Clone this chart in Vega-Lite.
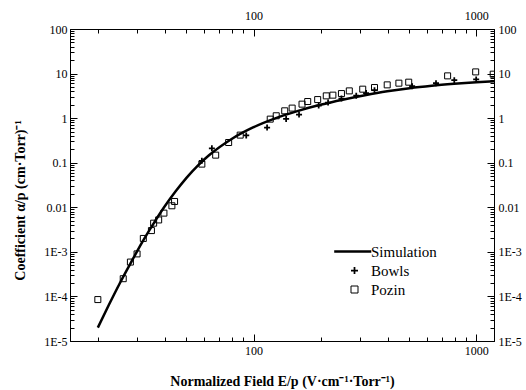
{
  "$schema": "https://vega.github.io/schema/vega-lite/v6.json",
  "width": 424,
  "height": 312,
  "autosize": "none",
  "padding": {"left": 70, "top": 29, "right": 32, "bottom": 49},
  "background": "white",
  "config": {
    "view": {"stroke": "black", "strokeWidth": 1},
    "font": "Liberation Serif",
    "axis": {
      "domainColor": "black", "domainWidth": 1, "tickColor": "black", "tickWidth": 1,
      "labelColor": "black", "titleColor": "black", "grid": false,
      "labelFont": "Liberation Serif", "titleFont": "Liberation Serif",
      "labelFontSize": 12, "titleFontSize": 14, "labelOverlap": false, "labelFlush": false, "labelBound": false
    }
  },
  "datasets": {
    "sim": [
      {"ep": 20, "alpha": 0.00002},
      {"ep": 22.4, "alpha": 0.0000641},
      {"ep": 25.1, "alpha": 0.000198},
      {"ep": 28.2, "alpha": 0.000582},
      {"ep": 31.6, "alpha": 0.00163},
      {"ep": 35.5, "alpha": 0.00425},
      {"ep": 39.8, "alpha": 0.01026},
      {"ep": 44.7, "alpha": 0.0228},
      {"ep": 50.1, "alpha": 0.0463},
      {"ep": 56.2, "alpha": 0.0863},
      {"ep": 63.1, "alpha": 0.1466},
      {"ep": 79.4, "alpha": 0.336},
      {"ep": 100, "alpha": 0.625},
      {"ep": 125.9, "alpha": 1.0},
      {"ep": 158.5, "alpha": 1.457},
      {"ep": 199.5, "alpha": 1.989},
      {"ep": 251.2, "alpha": 2.59},
      {"ep": 316.2, "alpha": 3.26},
      {"ep": 398.1, "alpha": 3.99},
      {"ep": 501.2, "alpha": 4.7},
      {"ep": 631, "alpha": 5.33},
      {"ep": 794.3, "alpha": 5.89},
      {"ep": 1000, "alpha": 6.41},
      {"ep": 1200, "alpha": 6.75}
    ],
    "exp": [
      {"series": "Pozin", "ep": 20, "alpha": 0.000085},
      {"series": "Pozin", "ep": 26, "alpha": 0.00025},
      {"series": "Pozin", "ep": 28, "alpha": 0.00059},
      {"series": "Pozin", "ep": 30, "alpha": 0.0009},
      {"series": "Pozin", "ep": 32, "alpha": 0.002},
      {"series": "Pozin", "ep": 34.8, "alpha": 0.003},
      {"series": "Pozin", "ep": 35.6, "alpha": 0.0044},
      {"series": "Pozin", "ep": 37.5, "alpha": 0.0052},
      {"series": "Pozin", "ep": 39.6, "alpha": 0.0074},
      {"series": "Pozin", "ep": 43, "alpha": 0.0108},
      {"series": "Pozin", "ep": 44.2, "alpha": 0.0135},
      {"series": "Pozin", "ep": 58.6, "alpha": 0.093},
      {"series": "Pozin", "ep": 67.6, "alpha": 0.148},
      {"series": "Pozin", "ep": 77.3, "alpha": 0.284},
      {"series": "Pozin", "ep": 87.1, "alpha": 0.416},
      {"series": "Pozin", "ep": 118.8, "alpha": 0.95},
      {"series": "Pozin", "ep": 126.4, "alpha": 1.13},
      {"series": "Pozin", "ep": 138, "alpha": 1.46},
      {"series": "Pozin", "ep": 149, "alpha": 1.68},
      {"series": "Pozin", "ep": 165, "alpha": 2.06},
      {"series": "Pozin", "ep": 175, "alpha": 2.36},
      {"series": "Pozin", "ep": 194, "alpha": 2.61},
      {"series": "Pozin", "ep": 212, "alpha": 3.16},
      {"series": "Pozin", "ep": 227, "alpha": 3.28},
      {"series": "Pozin", "ep": 248, "alpha": 3.56},
      {"series": "Pozin", "ep": 269, "alpha": 4.09},
      {"series": "Pozin", "ep": 309, "alpha": 4.47},
      {"series": "Pozin", "ep": 349, "alpha": 4.86},
      {"series": "Pozin", "ep": 398, "alpha": 5.58},
      {"series": "Pozin", "ep": 449, "alpha": 6.09},
      {"series": "Pozin", "ep": 497, "alpha": 6.41},
      {"series": "Pozin", "ep": 743, "alpha": 8.88},
      {"series": "Pozin", "ep": 993, "alpha": 10.9},
      {"series": "Pozin", "ep": 1190, "alpha": 9.7},
      {"series": "Bowls", "ep": 58.6, "alpha": 0.11},
      {"series": "Bowls", "ep": 65, "alpha": 0.21},
      {"series": "Bowls", "ep": 92.7, "alpha": 0.41},
      {"series": "Bowls", "ep": 115, "alpha": 0.615},
      {"series": "Bowls", "ep": 140, "alpha": 0.96},
      {"series": "Bowls", "ep": 160, "alpha": 1.2},
      {"series": "Bowls", "ep": 196, "alpha": 1.92},
      {"series": "Bowls", "ep": 216, "alpha": 2.24},
      {"series": "Bowls", "ep": 248, "alpha": 2.75},
      {"series": "Bowls", "ep": 289, "alpha": 3.2},
      {"series": "Bowls", "ep": 320, "alpha": 3.65},
      {"series": "Bowls", "ep": 349, "alpha": 4.25},
      {"series": "Bowls", "ep": 515, "alpha": 5.2},
      {"series": "Bowls", "ep": 659, "alpha": 6.1},
      {"series": "Bowls", "ep": 796, "alpha": 7.1},
      {"series": "Bowls", "ep": 998, "alpha": 7.4}
    ]
  },
  "layer": [
    {
      "data": {"name": "sim"},
      "mark": {"type": "line", "color": "black", "strokeWidth": 2.5, "interpolate": "monotone", "clip": true},
      "encoding": {
        "x": {
          "field": "ep", "type": "quantitative",
          "scale": {"type": "log", "domain": [15, 1200], "nice": false},
          "axis": {
            "orient": "bottom",
            "values": [20, 30, 40, 50, 60, 70, 80, 90, 100, 200, 300, 400, 500, 600, 700, 800, 900, 1000],
            "labelExpr": "datum.value == 100 ? '100' : datum.value == 1000 ? '1000' : ''",
            "tickSize": {"condition": {"test": "datum.value == 100 || datum.value == 1000", "value": -7}, "value": -4},
            "labelPadding": 11,
            "title": "Normalized Field E/p (V·cm⁻¹·Torr⁻¹)",
            "titleFontWeight": "bold",
            "titleX": 212,
            "titleY": 40,
            "titleBaseline": "middle"
          }
        },
        "y": {
          "field": "alpha", "type": "quantitative",
          "scale": {"type": "log", "domain": [0.00001, 100], "nice": false},
          "axis": {
            "orient": "left",
            "values": [0.00001, 0.00002, 0.00003, 0.00004, 0.00005, 0.00006, 0.00007, 0.00008, 0.00009, 0.0001, 0.0002, 0.0003, 0.0004, 0.0005, 0.0006, 0.0007, 0.0008, 0.0009, 0.001, 0.002, 0.003, 0.004, 0.005, 0.006, 0.007, 0.008, 0.009, 0.01, 0.02, 0.03, 0.04, 0.05, 0.06, 0.07, 0.08, 0.09, 0.1, 0.2, 0.3, 0.4, 0.5, 0.6, 0.7, 0.8, 0.9, 1, 2, 3, 4, 5, 6, 7, 8, 9, 10, 20, 30, 40, 50, 60, 70, 80, 90, 100],
            "labelExpr": "datum.value == 100 ? '100' : datum.value == 10 ? '10' : datum.value == 1 ? '1' : datum.value == 0.1 ? '0.1' : datum.value == 0.01 ? '0.01' : datum.value == 0.001 ? '1E-3' : datum.value == 0.0001 ? '1E-4' : datum.value == 0.00001 ? '1E-5' : ''",
            "tickSize": {"condition": {"test": "indexof([100, 10, 1, 0.1, 0.01, 0.001, 0.0001, 0.00001], datum.value) >= 0", "value": -7}, "value": -4},
            "labelPadding": 10,
            "title": "Coefficient α/p (cm·Torr)⁻¹",
            "titleFontWeight": "bold",
            "titleX": -50,
            "titleY": 171,
            "titleBaseline": "middle"
          }
        }
      }
    },
    {
      "data": {"name": "exp"},
      "mark": {"type": "point", "filled": false, "color": "black", "size": 36, "opacity": 1, "clip": true},
      "encoding": {
        "x": {
          "field": "ep", "type": "quantitative",
          "scale": {"type": "log", "domain": [15, 1200], "nice": false},
          "axis": {
            "orient": "top",
            "values": [20, 30, 40, 50, 60, 70, 80, 90, 100, 200, 300, 400, 500, 600, 700, 800, 900, 1000],
            "labelExpr": "datum.value == 100 ? '100' : datum.value == 1000 ? '1000' : ''",
            "tickSize": {"condition": {"test": "datum.value == 100 || datum.value == 1000", "value": -7}, "value": -4},
            "labelPadding": 14,
            "title": null
          }
        },
        "y": {
          "field": "alpha", "type": "quantitative",
          "scale": {"type": "log", "domain": [0.00001, 100], "nice": false},
          "axis": {
            "orient": "right",
            "values": [0.00001, 0.00002, 0.00003, 0.00004, 0.00005, 0.00006, 0.00007, 0.00008, 0.00009, 0.0001, 0.0002, 0.0003, 0.0004, 0.0005, 0.0006, 0.0007, 0.0008, 0.0009, 0.001, 0.002, 0.003, 0.004, 0.005, 0.006, 0.007, 0.008, 0.009, 0.01, 0.02, 0.03, 0.04, 0.05, 0.06, 0.07, 0.08, 0.09, 0.1, 0.2, 0.3, 0.4, 0.5, 0.6, 0.7, 0.8, 0.9, 1, 2, 3, 4, 5, 6, 7, 8, 9, 10, 20, 30, 40, 50, 60, 70, 80, 90, 100],
            "labelExpr": "datum.value == 100 ? '100' : datum.value == 10 ? '10' : datum.value == 1 ? '1' : datum.value == 0.1 ? '0.1' : datum.value == 0.01 ? '0.01' : datum.value == 0.001 ? '1E-3' : datum.value == 0.0001 ? '1E-4' : datum.value == 0.00001 ? '1E-5' : ''",
            "tickSize": {"condition": {"test": "indexof([100, 10, 1, 0.1, 0.01, 0.001, 0.0001, 0.00001], datum.value) >= 0", "value": -7}, "value": -4},
            "labelPadding": 11,
            "title": null
          }
        },
        "shape": {
          "field": "series", "type": "nominal",
          "scale": {"domain": ["Simulation", "Bowls", "Pozin"], "range": ["M-5.8,0L4.8,0", "M-1,0L1,0M0,-1L0,1", "square"]},
          "legend": {
            "orient": "none", "legendX": 277, "legendY": 215, "title": null, "padding": 0,
            "labelFont": "Liberation Serif", "labelFontSize": 15, "labelColor": "black",
            "labelOffset": 9, "rowPadding": 3, "symbolSize": 49,
            "symbolStrokeColor": "black", "symbolFillColor": "transparent"
          }
        },
        "strokeWidth": {
          "field": "series", "type": "nominal",
          "scale": {"domain": ["Simulation", "Bowls", "Pozin"], "range": [2.5, 1, 1]}
        }
      }
    }
  ],
  "resolve": {"scale": {"x": "independent", "y": "independent"}}
}
